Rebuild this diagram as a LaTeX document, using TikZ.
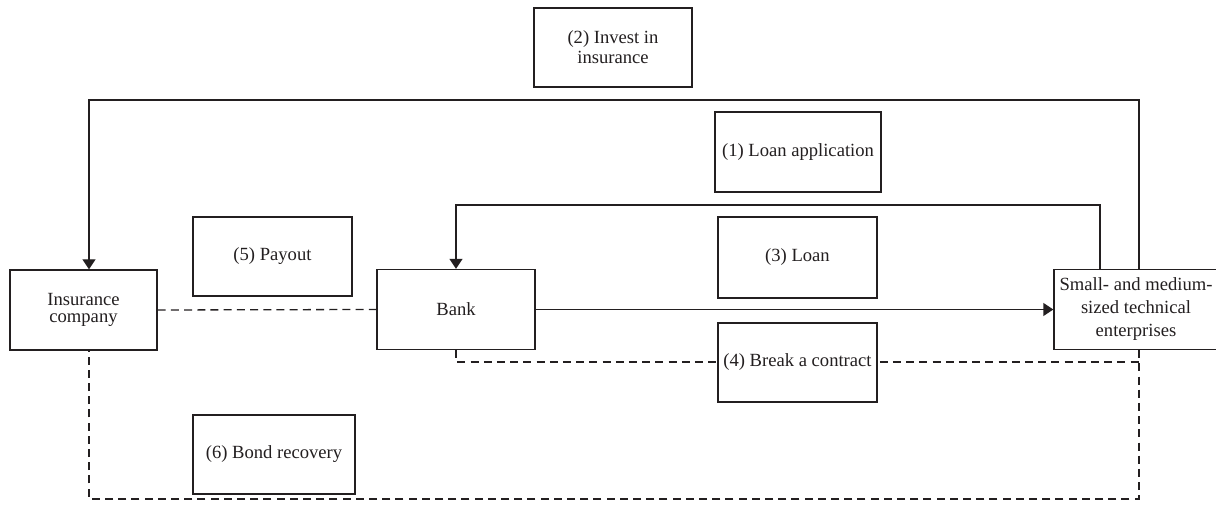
\documentclass[tikz,border=0pt]{standalone}
\usepackage{fontspec}
\setmainfont{Liberation Serif}
\usetikzlibrary{arrows.meta}
\definecolor{ink}{HTML}{231F20}
\begin{document}
\begin{tikzpicture}[x=0.5pt,y=-0.5pt,
  box/.style={draw=ink, fill=white, line width=0.65pt, inner sep=0pt, align=center,
    font=\fontsize{9.3}{10.5}\selectfont, text=ink},
  conn/.style={draw=ink, line width=0.65pt},
  arr/.style={conn, -{Triangle[length=5pt,width=6.5pt]}},
  dconn/.style={conn, dash pattern=on 4pt off 2.6pt}]
\useasboundingbox (0,0) rectangle (1216,506);
% main nodes
\node[box, minimum width=73.5pt, minimum height=40pt, font=\fontsize{9.3}{8.2}\selectfont] (ins) at (83.5,310) {Insurance\\company};
\node[box, minimum width=79pt, minimum height=40pt] (bank) at (456,309.5) {Bank};
\node[box, minimum width=82pt, minimum height=40pt, font=\fontsize{9.3}{11.5}\selectfont] (sme) at (1136,309.5) {Small- and medium-\\sized technical\\enterprises};
% connectors
\coordinate (i1) at (1139,100);
\coordinate (i2) at (89,100);
\draw[arr] (sme.north -| i1) -- (i1) -- (i2) -- (i2 |- ins.north);
\coordinate (l1) at (1100,205);
\draw[arr] (sme.north -| l1) -- (l1) -| (bank.north);
\draw[arr] (bank.east) -- (sme.west);
\draw[dconn] (ins.east) -- (bank.west);
\coordinate (b1) at (1139,362);
\coordinate (c1) at (1139,499);
\coordinate (c2) at (89,499);
\draw[dconn] (bank.south) |- (b1);
\draw[dconn] (sme.south -| b1) -- (b1) -- (c1) -- (c2) -- (c2 |- ins.south);
% label boxes
\node[box, minimum width=79pt, minimum height=39.5pt, font=\fontsize{9.3}{10}\selectfont] (invest) at (613,47.5) {(2) Invest in\\insurance};
\node[box, minimum width=83pt, minimum height=40pt] (loanapp) at (798,152) {(1) Loan application};
\node[box, minimum width=79.5pt, minimum height=39.5pt] (payout) at (272.5,256.5) {(5) Payout};
\node[box, minimum width=79.5pt, minimum height=40.5pt] (loan) at (797.5,257.5) {(3) Loan};
\node[box, minimum width=79.5pt, minimum height=39.5pt] (breach) at (797.5,362.5) {(4) Break a contract};
\node[box, minimum width=81pt, minimum height=39.5pt] (bond) at (274,454.5) {(6) Bond recovery};
\end{tikzpicture}
\end{document}
